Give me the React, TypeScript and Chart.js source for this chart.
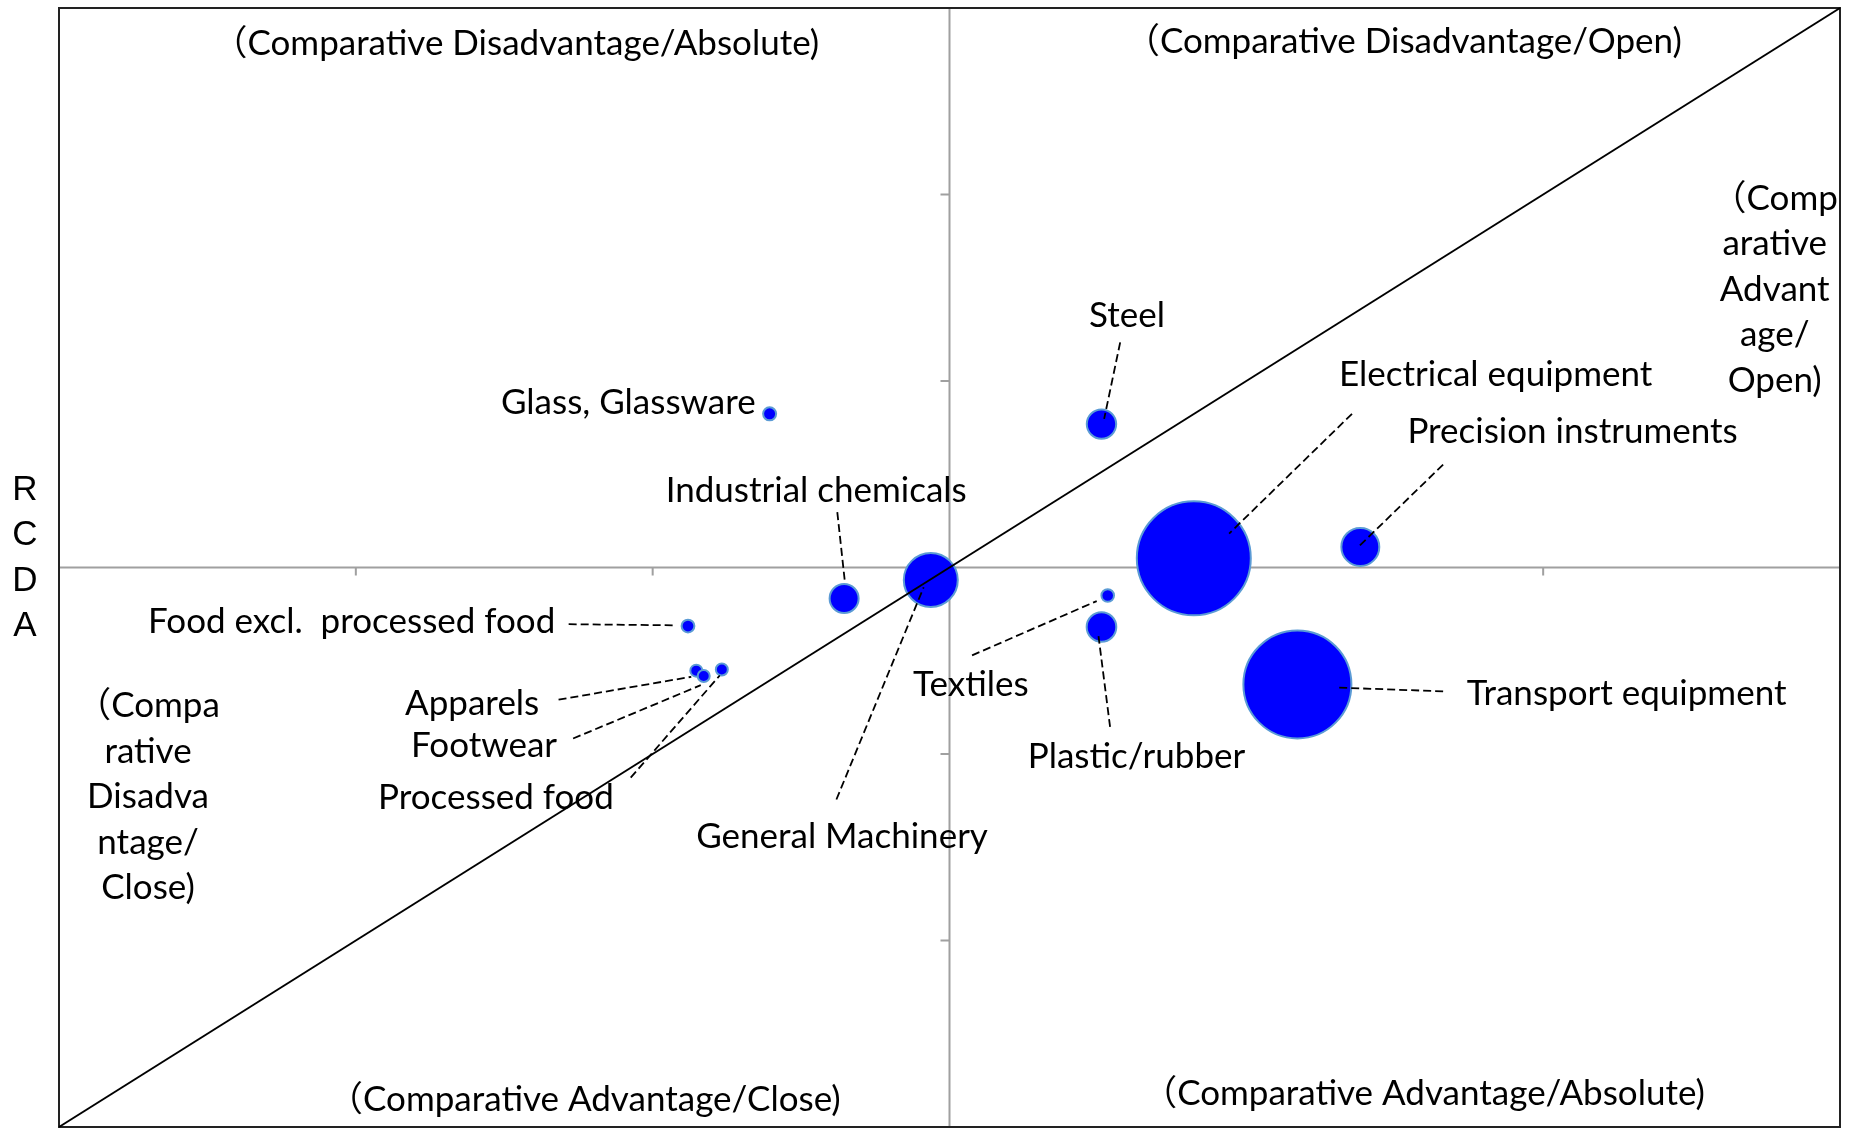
import React, { useEffect, useRef } from 'react';
import { Chart, registerables } from 'chart.js';

Chart.register(...registerables);

// ---------- data ----------
const industries = [
  'Glass, Glassware',
  'Steel',
  'Industrial chemicals',
  'General Machinery',
  'Textiles',
  'Plastic/rubber',
  'Electrical equipment',
  'Precision instruments',
  'Transport equipment',
  'Food excl.  processed food',
  'Apparels',
  'Footwear',
  'Processed food',
];
const rcaValues = [-0.606, 0.512, -0.355, -0.063, 0.533, 0.512, 0.823, 1.384, 1.172, -0.881, -0.853, -0.828, -0.767];
const rcdaValues = [0.824, 0.769, -0.166, -0.067, -0.15, -0.319, 0.049, 0.11, -0.627, -0.314, -0.553, -0.582, -0.547];
const tradeVolumes = [10.6, 54, 52.6, 182, 9.9, 54.8, 812, 90, 729, 10.2, 9, 9, 9];

// label anchors (data units)
const labelX = [-1.082, 0.598, -0.449, -0.362, 0.072, 0.63, 1.84, 2.099, 2.281, -2.014, -1.608, -1.568, -1.528];
const labelY = [0.881, 1.35, 0.412, -1.445, -0.628, -1.014, 1.033, 0.729, -0.678, -0.292, -0.729, -0.957, -1.236];

// leader lines (data units): start near label, end at bubble; null = none
const leaderFromX = [null, 0.575, -0.378, -0.381, 0.076, 0.541, 1.356, 1.663, 1.663, -1.283, -1.317, -1.268, -1.074];
const leaderFromY = [null, 1.207, 0.297, -1.244, -0.471, -0.855, 0.824, 0.552, -0.664, -0.304, -0.709, -0.917, -1.127];
const leaderToX = [null, 0.521, -0.352, -0.087, 0.496, 0.502, 0.942, 1.377, 1.309, -0.924, -0.87, -0.838, -0.774];
const leaderToY = [null, 0.797, -0.084, -0.106, -0.18, -0.368, 0.182, 0.11, -0.644, -0.31, -0.586, -0.631, -0.579];

const quadrantTexts = [
  '（Comparative Disadvantage/Absolute)',
  '（Comparative Disadvantage/Open)',
  '（Comparative Advantage/Close)',
  '（Comparative Advantage/Absolute)',
];
const quadrantX = [-1.461, 1.529, -1.23, 1.597];
const quadrantY = [2.809, 2.821, -2.853, -2.821];

const rightNoteLines = ['（Comp', 'arative', 'Advant', 'age/', 'Open)'];
const rightNoteX = 2.78;
const rightNoteY = 1.978;
const leftNoteLines = ['（Compa', 'rative', 'Disadva', 'ntage/', 'Close)'];
const leftNoteX = -2.7;
const leftNoteY = -0.743;

const axisTicks = [-2, -1, 1, 2];
const diagonalX = [-3, 3];
const diagonalY = [-3, 3];
const yTitleLetters = ['R', 'C', 'D', 'A'];

// ---------- style ----------
const LABEL_FONT = "35px Lato, 'Noto Sans CJK JP', sans-serif";
const TEXT_SCALE_X = 1.0;
const NOTE_LINE_GAP = 45.5;

function drawText(ctx: CanvasRenderingContext2D, text: string, x: number, y: number) {
  ctx.save();
  ctx.translate(x, y);
  ctx.scale(TEXT_SCALE_X, 1);
  ctx.textAlign = 'center';
  ctx.textBaseline = 'middle';
  ctx.fillText(text, 0, 0);
  ctx.restore();
}

const decorPlugin = {
  id: 'decor',
  beforeDatasetsDraw(chart: any) {
    const { ctx, chartArea, scales } = chart;
    const xs = scales.x;
    const ys = scales.y;
    const x0 = xs.getPixelForValue(0);
    const y0 = ys.getPixelForValue(0);
    ctx.save();
    // center axes
    ctx.strokeStyle = '#a0a0a0';
    ctx.lineWidth = 2;
    ctx.beginPath();
    ctx.moveTo(x0, chartArea.top);
    ctx.lineTo(x0, chartArea.bottom);
    ctx.moveTo(chartArea.left, y0);
    ctx.lineTo(chartArea.right, y0);
    axisTicks.forEach((t) => {
      const px = xs.getPixelForValue(t);
      ctx.moveTo(px, y0);
      ctx.lineTo(px, y0 + 8);
      const py = ys.getPixelForValue(t);
      ctx.moveTo(x0, py);
      ctx.lineTo(x0 - 9, py);
    });
    ctx.stroke();
    // frame
    ctx.strokeStyle = '#222';
    ctx.lineWidth = 2;
    ctx.strokeRect(chartArea.left, chartArea.top, chartArea.right - chartArea.left, chartArea.bottom - chartArea.top);
    ctx.restore();
  },
  afterDatasetsDraw(chart: any) {
    const { ctx, chartArea, scales } = chart;
    const xs = scales.x;
    const ys = scales.y;
    ctx.save();
    // diagonal
    ctx.strokeStyle = '#000';
    ctx.lineWidth = 2;
    ctx.beginPath();
    ctx.moveTo(xs.getPixelForValue(diagonalX[0]), ys.getPixelForValue(diagonalY[0]));
    ctx.lineTo(xs.getPixelForValue(diagonalX[1]), ys.getPixelForValue(diagonalY[1]));
    ctx.stroke();
    // leaders
    ctx.lineWidth = 1.8;
    ctx.setLineDash([8, 4]);
    industries.forEach((_, i) => {
      const fx = leaderFromX[i];
      const fy = leaderFromY[i];
      const tx = leaderToX[i];
      const ty = leaderToY[i];
      if (fx === null || fy === null || tx === null || ty === null) return;
      ctx.beginPath();
      ctx.moveTo(xs.getPixelForValue(fx), ys.getPixelForValue(fy));
      ctx.lineTo(xs.getPixelForValue(tx), ys.getPixelForValue(ty));
      ctx.stroke();
    });
    ctx.setLineDash([]);
    // labels
    ctx.fillStyle = '#000';
    ctx.font = LABEL_FONT;
    industries.forEach((name, i) => {
      drawText(ctx, name, xs.getPixelForValue(labelX[i]), ys.getPixelForValue(labelY[i]));
    });
    quadrantTexts.forEach((t, i) => {
      drawText(ctx, t, xs.getPixelForValue(quadrantX[i]), ys.getPixelForValue(quadrantY[i]));
    });
    rightNoteLines.forEach((t, i) => {
      drawText(ctx, t, xs.getPixelForValue(rightNoteX), ys.getPixelForValue(rightNoteY) + i * NOTE_LINE_GAP);
    });
    leftNoteLines.forEach((t, i) => {
      drawText(ctx, t, xs.getPixelForValue(leftNoteX), ys.getPixelForValue(leftNoteY) + i * NOTE_LINE_GAP);
    });
    // y title (stacked letters)
    ctx.font = "35px 'Liberation Sans', Arial, sans-serif";
    ctx.textAlign = 'center';
    ctx.textBaseline = 'middle';
    const midY = (chartArea.top + chartArea.bottom) / 2;
    yTitleLetters.forEach((ch, i) => {
      ctx.fillText(ch, chartArea.left - 34, midY - 77 + i * 45.3);
    });
    ctx.restore();
  },
};

export default function App() {
  const canvasRef = useRef<HTMLCanvasElement | null>(null);

  useEffect(() => {
    const canvas = canvasRef.current;
    if (!canvas) return;
    const chart = new Chart(canvas, {
      type: 'bubble',
      data: {
        datasets: [
          {
            label: 'Industries',
            data: industries.map((_, i) => ({
              x: rcaValues[i],
              y: rcdaValues[i],
              r: 2 * Math.sqrt(tradeVolumes[i]),
            })),
            backgroundColor: '#0000ff',
            borderColor: '#5b9bd5',
            borderWidth: 2,
          },
        ],
      },
      options: {
        responsive: false,
        animation: false,
        events: [],
        layout: { autoPadding: false, padding: { left: 59, right: 14, top: 8, bottom: 2 } },
        plugins: { legend: { display: false }, tooltip: { enabled: false } },
        scales: {
          x: { type: 'linear', min: -3, max: 3, display: false },
          y: { type: 'linear', min: -3, max: 3, display: false },
        },
      },
      plugins: [decorPlugin],
    });
    return () => chart.destroy();
  }, []);

  return (
    <div style={{ position: 'fixed', left: 0, top: 0, width: 1854, height: 1129, background: '#fff' }}>
      <canvas ref={canvasRef} width={1854} height={1129} style={{ display: 'block' }} />
    </div>
  );
}
